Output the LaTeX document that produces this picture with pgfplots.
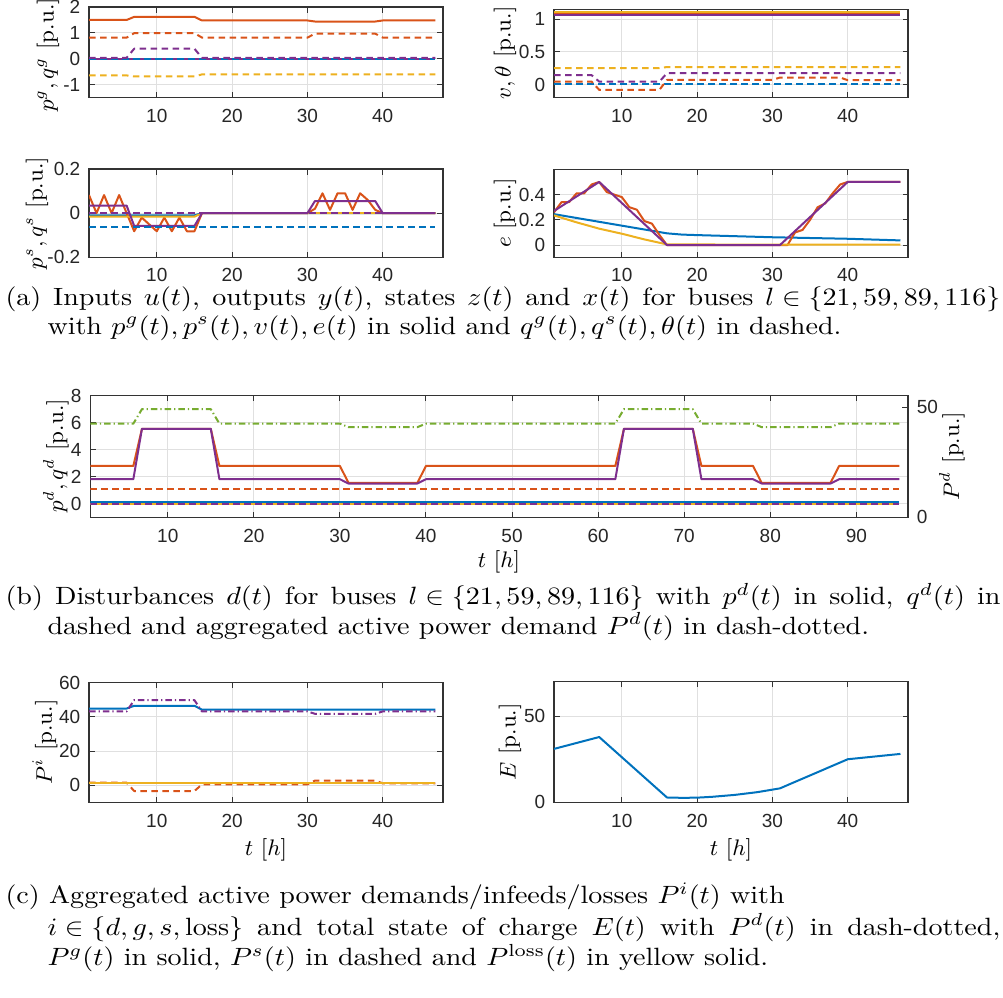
\documentclass[border=0pt]{standalone}
\usepackage{graphicx}
\usepackage{pgfplots}
\pgfplotsset{compat=1.18}
\usepackage{fontspec}
\newfontfamily\ticksf{Liberation Sans}

\definecolor{mb}{rgb}{0,0.447,0.741}
\definecolor{mo}{rgb}{0.85,0.325,0.098}
\definecolor{my}{rgb}{0.929,0.694,0.125}
\definecolor{mp}{rgb}{0.494,0.184,0.556}
\definecolor{mg}{rgb}{0.466,0.674,0.188}

\pgfplotsset{
  mat/.style={
    scale only axis, anchor=south west,
    axis line style={draw=black!80, line width=0.5pt},
    tick align=inside, major tick length=2.2pt,
    tick style={black!80, line width=0.4pt},
    grid=major, major grid style={black!12, line width=0.4pt},
    tick label style={font=\ticksf\fontsize{7.6}{9}\selectfont, text=black!85},
    xticklabel style={inner sep=0.5pt, yshift=-4pt},
    /pgf/number format/assume math mode=true,
    xmin=1, xmax=48, xtick={10,20,30,40},
    every axis plot/.append style={line width=0.8pt, line join=round},
    no markers,
  },
  dsh/.style={dash pattern=on 2.6pt off 1.8pt},
  dd/.style={dash pattern=on 2.6pt off 1.2pt on 0.5pt off 1.2pt},
}
\newcommand{\capf}{\fontsize{10}{12}\selectfont\thickmuskip=5mu\medmuskip=4mu}
\newcommand{\lab}{\fontsize{9}{11}\selectfont}
% caption lines are a little wider than tall in the reference
\newcommand{\wide}[1]{\scalebox{1.123}[1]{#1}}

\begin{document}
\begin{tikzpicture}
\path[use as bounding box] (0,0) rectangle (401.2pt,-398.8pt);

% (a) top left: p^g, q^g
\begin{axis}[mat, at={(35.6pt,-39.08pt)}, width=141.6pt, height=36.28pt,
  ymin=-1.5, ymax=2, ytick={-1,0,1,2}, yticklabels={-1,0,1,2}]
\addplot[mb] coordinates {(1,0) (47,0)};
\addplot[mo] coordinates {(1,1.5) (6,1.5) (7,1.62) (15,1.62) (16,1.48) (30,1.48) (31,1.44) (39,1.44) (40,1.48) (47,1.48)};
\addplot[my] coordinates {(1,0) (47,0)};
\addplot[mp] coordinates {(1,0) (47,0)};
\addplot[mb,dsh] coordinates {(1,0) (47,0)};
\addplot[mo,dsh] coordinates {(1,0.82) (6,0.82) (7,0.99) (15,0.99) (16,0.82) (30,0.82) (31,0.97) (39,0.97) (40,0.82) (47,0.82)};
\addplot[my,dsh] coordinates {(1,-0.64) (6,-0.64) (7,-0.68) (15,-0.68) (16,-0.6) (47,-0.6)};
\addplot[mp,dsh] coordinates {(1,0.04) (6,0.04) (7,0.39) (15,0.39) (16,0.04) (47,0.04)};
\end{axis}

% (a) top right: v, theta
\begin{axis}[mat, at={(221.6pt,-39.08pt)}, width=141.6pt, height=35.36pt,
  ymin=-0.2, ymax=1.15, ytick={0,0.5,1}]
\addplot[mb] coordinates {(1,1.075) (47,1.075)};
\addplot[mo] coordinates {(1,1.09) (47,1.09)};
\addplot[my] coordinates {(1,1.105) (47,1.105)};
\addplot[mp] coordinates {(1,1.065) (47,1.065)};
\addplot[mb,dsh] coordinates {(1,0.01) (47,0.01)};
\addplot[mo,dsh] coordinates {(1,0.046) (6,0.046) (7,-0.08) (15,-0.08) (16,0.072) (30,0.072) (31,0.108) (39,0.108) (40,0.067) (47,0.067)};
\addplot[my,dsh] coordinates {(1,0.253) (15,0.253) (16,0.268) (47,0.268)};
\addplot[mp,dsh] coordinates {(1,0.144) (6,0.144) (7,0.046) (15,0.046) (16,0.175) (47,0.175)};
\end{axis}

% (a) bottom left: p^s, q^s
\begin{axis}[mat, at={(35.6pt,-102.92pt)}, width=141.6pt, height=35.32pt,
  xticklabel style={yshift=0.5pt},
  ymin=-0.2, ymax=0.2, ytick={-0.2,0,0.2}, yticklabels={-0.2,0,0.2}]
\addplot[mb] coordinates {(1,-0.01) (15,-0.01) (16,0) (47,0)};
\addplot[mo] coordinates {(1,0.082) (2,0) (3,0.082) (4,0) (5,0.082) (6,0) (7,-0.082) (8,-0.02) (9,-0.051) (10,-0.082) (11,-0.02) (12,-0.082) (13,-0.02) (14,-0.082) (15,-0.082) (16,0) (30,0) (31,0.02) (32,0.09) (33,0.015) (34,0.09) (35,0.09) (36,0.015) (37,0.09) (38,0.06) (39,0.015) (40,0) (47,0)};
\addplot[my] coordinates {(1,-0.016) (15,-0.016) (16,0) (47,0)};
\addplot[mp] coordinates {(1,0.034) (6,0.034) (7,-0.058) (15,-0.058) (16,0) (30,0) (31,0.055) (39,0.055) (40,0) (47,0)};
\addplot[mb,dsh] coordinates {(1,-0.064) (47,-0.064)};
\addplot[mo,dsh] coordinates {(1,0) (47,0)};
\addplot[my,dsh] coordinates {(1,0) (47,0)};
\addplot[mp,dsh] coordinates {(1,0) (47,0)};
\end{axis}

% (a) bottom right: e
\begin{axis}[mat, at={(221.6pt,-103.08pt)}, width=141.6pt, height=35.36pt,
  xticklabel style={yshift=0.5pt},
  ymin=-0.1, ymax=0.6, ytick={0,0.2,0.4}]
\addplot[mb] coordinates {(1,0.245) (16,0.093) (18,0.083) (20,0.079) (30,0.062) (40,0.05) (47,0.037)};
\addplot[mo] coordinates {(1,0.26) (2,0.34) (3,0.34) (4,0.41) (5,0.41) (6,0.48) (7,0.5) (8,0.42) (9,0.4) (10,0.38) (11,0.3) (12,0.28) (13,0.19) (14,0.17) (15,0.08) (16,0) (32,0) (33,0.1) (34,0.12) (35,0.2) (36,0.3) (37,0.33) (38,0.41) (39,0.48) (40,0.5) (47,0.5)};
\addplot[my] coordinates {(1,0.235) (4,0.18) (7,0.13) (10,0.09) (13,0.045) (16,0.005) (47,0.003)};
\addplot[mp] coordinates {(1,0.27) (7,0.5) (16,0) (31,0) (40,0.5) (47,0.5)};
\end{axis}

% (b) disturbances, left axis
\begin{axis}[mat, at={(36.12pt,-206.92pt)}, width=327.08pt, height=48.64pt,
  xmin=1, xmax=96, xtick={10,20,...,90}, ytick pos=left,
  ymin=-1, ymax=8, ytick={0,2,4,6,8}]
\addplot[mb] coordinates {(1,0.12) (95,0.12)};
\addplot[mo] coordinates {(1,2.8) (6,2.8) (7,5.55) (15,5.55) (16,2.8) (30,2.8) (31,1.55) (39,1.55) (40,2.8) (62,2.8) (63,5.55) (71,5.55) (72,2.8) (78,2.8) (79,1.55) (87,1.55) (88,2.8) (95,2.8)};
\addplot[my] coordinates {(1,0) (95,0)};
\addplot[mp] coordinates {(1,1.82) (6,1.82) (7,5.55) (15,5.55) (16,1.82) (30,1.82) (31,1.5) (39,1.5) (40,1.82) (62,1.82) (63,5.55) (71,5.55) (72,1.82) (78,1.82) (79,1.5) (87,1.5) (88,1.82) (95,1.82)};
\addplot[mb,dsh] coordinates {(1,0) (95,0)};
\addplot[mo,dsh] coordinates {(1,1.1) (95,1.1)};
\addplot[my,dsh] coordinates {(1,0) (95,0)};
\addplot[mp,dsh] coordinates {(1,0) (95,0)};
\end{axis}
% (b) right axis: P^d
\begin{axis}[mat, at={(36.12pt,-206.92pt)}, width=327.08pt, height=48.64pt,
  xmin=1, xmax=96, axis x line=none, axis y line*=right, grid=none,
  ymin=0, ymax=55.3, ytick={0,50}]
\addplot[mg,dd] coordinates {(1,42.6) (6,42.6) (7,49.2) (15,49.2) (16,42.6) (30,42.6) (31,41) (39,41) (40,42.6) (62,42.6) (63,49.2) (71,49.2) (72,42.6) (78,42.6) (79,41) (87,41) (88,42.6) (95,42.6)};
\end{axis}

% (c) left: P^i
\begin{axis}[mat, at={(35.6pt,-320.92pt)}, width=141.6pt, height=47.84pt,
  ymin=-10, ymax=60, ytick={0,20,40,60}]
\addplot[mb] coordinates {(1,44.9) (6,44.9) (7,46.5) (15,46.5) (16,44.2) (47,44.2)};
\addplot[mo,dsh] coordinates {(1,1.5) (6,1.5) (7,-3.4) (15,-3.4) (16,0.5) (30,0.5) (31,2.7) (39,2.7) (40,1.1) (47,1.1)};
\addplot[my] coordinates {(1,1.2) (47,1.2)};
\addplot[mp,dd] coordinates {(1,43.2) (6,43.2) (7,49.8) (15,49.8) (16,43.2) (30,43.2) (31,41.8) (39,41.8) (40,43.2) (47,43.2)};
\end{axis}

% (c) right: E
\begin{axis}[mat, at={(221.6pt,-320.92pt)}, width=141.6pt, height=48.24pt,
  ymin=0, ymax=70, ytick={0,50}]
\addplot[mb] coordinates {(1,31) (7,37.9) (16,2.8) (18,2.6) (20,2.7) (22,3.2) (25,4.3) (28,5.9) (31,8.1) (40,25) (47,28.1)};
\end{axis}

\begin{scope}[x=0.4pt,y=-0.4pt]
% axis labels
\node[rotate=90, inner sep=0, font=\lab] at (48,55) {$p^g, q^g$ [p.u.]};
\node[rotate=90, inner sep=0, font=\lab] at (505,53) {$v, \theta$ [p.u.]};
\node[rotate=90, inner sep=0, font=\lab] at (37,213) {$p^s, q^s$ [p.u.]};
\node[rotate=90, inner sep=0, font=\lab] at (505,213) {$e$ [p.u.]};
\node[rotate=90, inner sep=0, font=\lab] at (56,456) {$p^d, q^d$ [p.u.]};
\node[rotate=90, inner sep=0, font=\lab] at (952,456) {$P^d$ [p.u.]};
\node[rotate=90, inner sep=0, font=\lab] at (45,742) {$P^i$ [p.u.]};
\node[rotate=90, inner sep=0, font=\lab] at (510,742) {$E$ [p.u.]};
\node[inner sep=0, font=\lab] at (499,562) {$t\ [h]$};
\node[inner sep=0, font=\lab] at (266,850) {$t\ [h]$};
\node[inner sep=0, font=\lab] at (731,850) {$t\ [h]$};
% captions
\node[anchor=base west, inner sep=0, font=\capf] at (5,306) {\wide{\makebox[354.4pt][s]{(a) Inputs $u(t)$, outputs $y(t)$, states $z(t)$ and $x(t)$ for buses $l \in \{21, 59, 89, 116\}$}}};
\node[anchor=base west, inner sep=0, font=\capf] at (47,334) {\wide{with $p^g(t), p^s(t), v(t), e(t)$ in solid and $q^g(t), q^s(t), \theta(t)$ in dashed.}};
\node[anchor=base west, inner sep=0, font=\capf] at (5,605) {\wide{\makebox[354.4pt][s]{(b) Disturbances $d(t)$ for buses $l \in \{21, 59, 89, 116\}$ with $p^d(t)$ in solid, $q^d(t)$ in}}};
\node[anchor=base west, inner sep=0, font=\capf] at (47,634) {\wide{dashed and aggregated active power demand $P^d(t)$ in dash-dotted.}};
\node[anchor=base west, inner sep=0, font=\capf] at (5,904) {\wide{(c) Aggregated active power demands/infeeds/losses $P^i(t)$ with}};
\node[anchor=base west, inner sep=0, font=\capf] at (47,935) {\wide{\makebox[339.4pt][s]{$i \in \{d, g, s, \mathrm{loss}\}$ and total state of charge $E(t)$ with $P^d(t)$ in dash-dotted,}}};
\node[anchor=base west, inner sep=0, font=\capf] at (47,966) {\wide{$P^g(t)$ in solid, $P^s(t)$ in dashed and $P^{\mathrm{loss}}(t)$ in yellow solid.}};
\end{scope}
\end{tikzpicture}
\end{document}
